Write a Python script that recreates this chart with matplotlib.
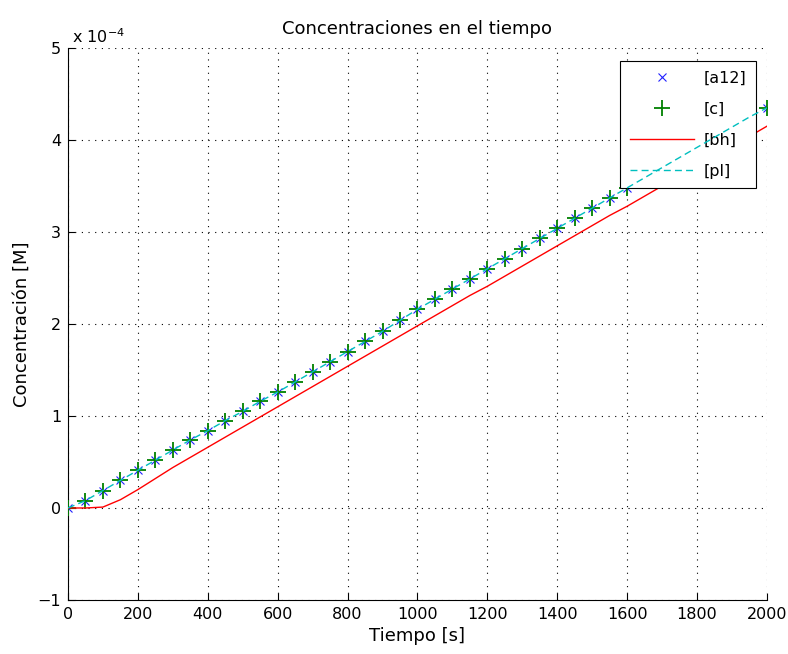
import matplotlib
matplotlib.use("Agg")
import matplotlib.pyplot as plt
import numpy as np

plt.rcParams["font.family"] = ["DejaVu Sans"]
plt.rcParams["font.size"] = 11.5

# time axis (s)
t_markers = [0, 50, 100, 150, 200, 250, 300, 350, 400, 450, 500, 550, 600, 650,
             700, 750, 800, 850, 900, 950, 1000, 1050, 1100, 1150, 1200, 1250,
             1300, 1350, 1400, 1450, 1500, 1550, 1600, 1650, 1700, 1750, 1800,
             1850, 1900, 1950, 2000]

# concentrations, in units of 1e-4 M
a12 = [0.00, 0.08, 0.19, 0.30, 0.41, 0.52, 0.63, 0.74, 0.84, 0.95, 1.05, 1.16,
       1.26, 1.37, 1.48, 1.59, 1.70, 1.81, 1.92, 2.04, 2.16, 2.27, 2.38, 2.49,
       2.60, 2.71, 2.82, 2.93, 3.04, 3.15, 3.26, 3.37, 3.48, 3.59, 3.70, 3.81,
       3.92, 4.03, 4.14, 4.25, 4.35]
c = list(a12)
pl = list(a12)
bh = [0.00, 0.00, 0.01, 0.09, 0.20, 0.32, 0.44, 0.55, 0.66, 0.77, 0.88, 0.99,
      1.10, 1.21, 1.32, 1.43, 1.54, 1.65, 1.76, 1.87, 1.98, 2.09, 2.20, 2.31,
      2.41, 2.52, 2.63, 2.74, 2.85, 2.96, 3.07, 3.18, 3.28, 3.39, 3.50, 3.61,
      3.72, 3.83, 3.93, 4.04, 4.15]

fig = plt.figure(figsize=(7.88, 6.54), dpi=100)
ax = fig.add_axes([0.0863, 0.0826, 0.8870, 0.8440])

ax.plot(t_markers, a12, linestyle="none", marker="x", color="#2020ff",
        markersize=6, markeredgewidth=0.8, label="[a12]", zorder=3)
ax.plot(t_markers, c, linestyle="none", marker="+", color="#008000",
        markersize=12, markeredgewidth=1.3, label="[c]", zorder=4)
ax.plot(t_markers, bh, color="#ff0000", linewidth=1.0, label="[bh]", zorder=5)
ax.plot(t_markers, pl, color="#00bfbf", linestyle=(0, (5, 3)), linewidth=1.0,
        label="[pl]", zorder=6)

ax.set_xlim(0, 2000)
ax.set_ylim(-1, 5)
ax.set_xticks(np.arange(0, 2001, 200))
ax.set_yticks(np.arange(-1, 6, 1))
ax.grid(True, color="black", linestyle=(0, (1, 5)), linewidth=0.8)
ax.tick_params(direction="in", length=5, width=0.8, top=False, right=False,
               pad=5)
for side in ("top", "right"):
    ax.spines[side].set_visible(False)
for side in ("left", "bottom"):
    ax.spines[side].set_linewidth(0.8)

ax.set_title("Concentraciones en el tiempo", fontsize=13, pad=10)
ax.set_xlabel("Tiempo [s]", fontsize=13, labelpad=4)
ax.set_ylabel("Concentración [M]", fontsize=13, labelpad=5)
ax.text(0.006, 1.004, r"x 10$^{-4}$", transform=ax.transAxes, fontsize=11.5,
        ha="left", va="bottom")

leg = ax.legend(loc="upper right", bbox_to_anchor=(0.984, 0.976),
                borderaxespad=0, fancybox=False,
                edgecolor="black", framealpha=1.0, borderpad=0.6,
                handlelength=4.0, labelspacing=1.0, handletextpad=0.6,
                fontsize=11.5)
leg.get_frame().set_linewidth(0.8)

fig.savefig("out.png", dpi=100)
